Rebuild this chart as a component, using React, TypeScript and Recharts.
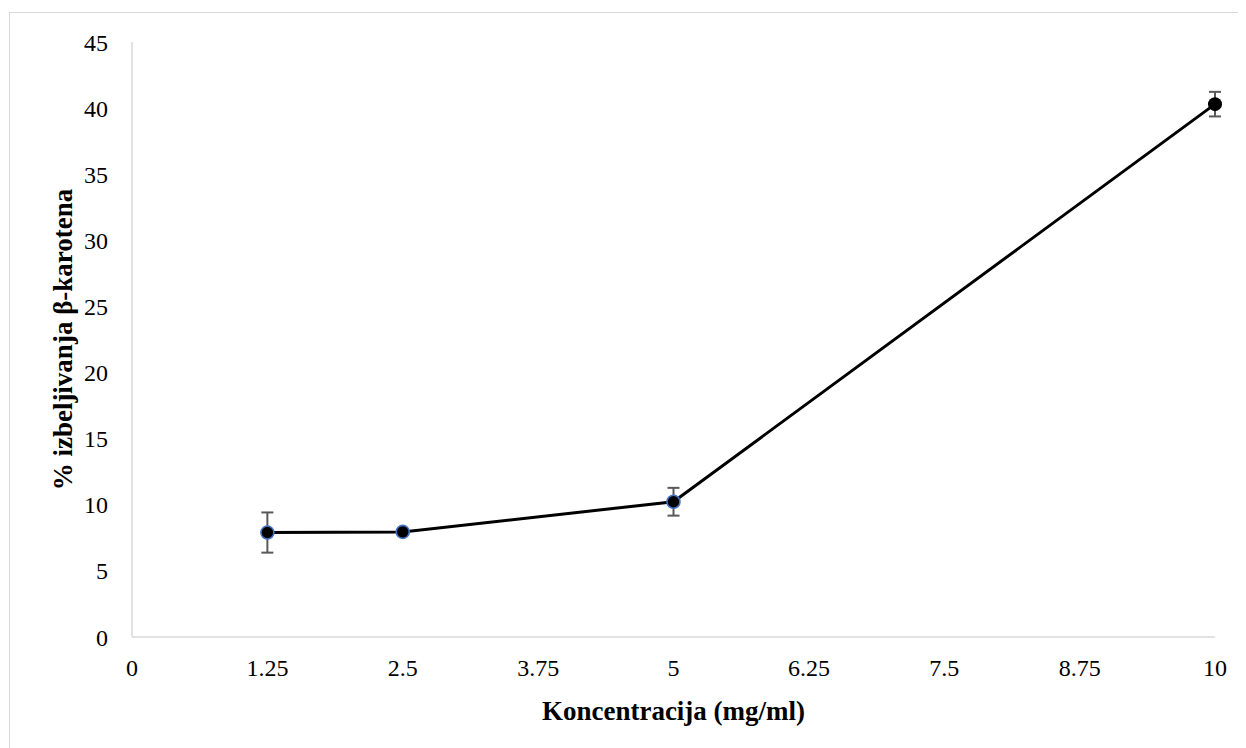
import React from 'react';
import { LineChart, Line, XAxis, YAxis, ErrorBar } from 'recharts';

const concentrations = [1.25, 2.5, 5, 10];
const bleaching = [7.9, 7.95, 10.23, 40.3];
const errors = [1.52, 0.2, 1.05, 0.93];
const xTicks = [0, 1.25, 2.5, 3.75, 5, 6.25, 7.5, 8.75, 10];
const yTicks = [0, 5, 10, 15, 20, 25, 30, 35, 40, 45];

const data = concentrations.map((x, i) => ({ x, y: bleaching[i], err: errors[i] }));

const FONT = '"Liberation Serif", "Times New Roman", serif';

const renderDot = (props: any) => {
  const { cx, cy, index } = props;
  const last = index === data.length - 1;
  return (
    <circle
      key={`dot-${index}`}
      cx={cx}
      cy={cy}
      r={last ? 7 : 6.5}
      fill="#000"
      stroke={last ? '#000' : '#4472C4'}
      strokeWidth={last ? 0 : 1.6}
    />
  );
};

export default function App() {
  return (
    <div style={{ position: 'relative', width: 1238, height: 740, overflow: 'hidden', background: '#fff' }}>
      <div
        style={{
          position: 'absolute',
          left: 1,
          top: 4,
          width: 1400,
          height: 1000,
          border: '1.5px solid #d9d9d9',
          boxSizing: 'border-box',
        }}
      />
      <div style={{ position: 'absolute', left: 0, top: 0 }}>
        <LineChart width={1238} height={740} data={data} margin={{ top: 34, right: 31, left: 0, bottom: 0 }}>
          <XAxis
            type="number"
            dataKey="x"
            domain={[0, 10]}
            ticks={xTicks}
            interval={0}
            height={111}
            tickLine={false}
            tickSize={0}
            tickMargin={22}
            axisLine={{ stroke: '#d9d9d9', strokeWidth: 1.5 }}
            tick={{ fill: '#000', fontSize: 24, fontFamily: FONT }}
            label={{
              value: 'Koncentracija (mg/ml)',
              position: 'insideBottom',
              offset: 28,
              style: { fill: '#000', fontSize: 27, fontWeight: 'bold', fontFamily: FONT },
            }}
          />
          <YAxis
            type="number"
            domain={[0, 45]}
            ticks={yTicks}
            interval={0}
            width={124}
            tickLine={false}
            tickSize={0}
            tickMargin={24}
            axisLine={{ stroke: '#d9d9d9', strokeWidth: 1.5 }}
            tick={{ fill: '#000', fontSize: 24, fontFamily: FONT }}
            label={{
              value: '% izbeljivanja β-karotena',
              position: 'insideLeft',
              angle: -90,
              offset: 54,
              style: { fill: '#000', fontSize: 27, fontWeight: 'bold', fontFamily: FONT, textAnchor: 'middle' },
            }}
          />
          <Line
            type="linear"
            dataKey="y"
            stroke="#000"
            strokeWidth={3}
            dot={renderDot}
            activeDot={false}
            isAnimationActive={false}
          >
            <ErrorBar dataKey="err" direction="y" width={6} stroke="#595959" strokeWidth={2} isAnimationActive={false} />
          </Line>
        </LineChart>
      </div>
    </div>
  );
}
